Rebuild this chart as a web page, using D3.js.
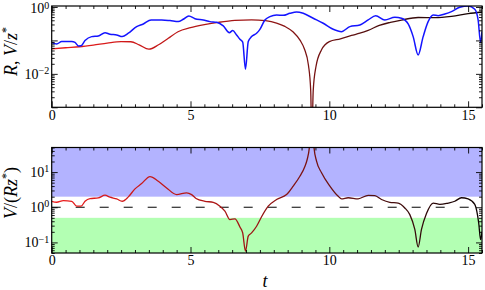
<!DOCTYPE html>
<html><head><meta charset="utf-8">
<script src="https://cdn.jsdelivr.net/npm/d3@7"></script>
<style>body{margin:0;background:#fff} svg{display:block}</style>
</head><body><svg id="c" width="485" height="290"></svg>
<script>
// ---- data ----
const tR = [0,0.5,1,1.5,2,2.5,2.85,3.15,3.5,3.85,4.2,4.55,5,5.5,6,6.6,7.2,7.7,8.1,8.4,8.7,8.95,9.1,9.25,9.33,9.37,9.42,9.52,9.72,10,10.4,10.8,11.1,11.4,11.8,12.2,12.6,13.2,13.8,14.4,15,15.5];
const Rvals = [0.0557,0.0603,0.0646,0.0724,0.0832,0.0923,0.0912,0.0741,0.0546,0.0741,0.116,0.182,0.240,0.295,0.347,0.398,0.412,0.389,0.331,0.263,0.178,0.100,0.0562,0.0178,0.00316,0.0001,0.00316,0.0166,0.0525,0.0923,0.112,0.141,0.164,0.200,0.282,0.347,0.407,0.484,0.481,0.525,0.631,0.708];
const tV = [0,0.18,0.36,0.72,0.84,0.96,1.06,1.2,1.44,1.68,1.92,2.1,2.34,2.54,2.76,3.06,3.3,3.58,3.96,4.26,4.56,4.74,4.94,5.16,5.46,5.7,5.94,6.18,6.4,6.52,6.66,6.78,6.88,6.98,7.08,7.2,7.38,7.5,7.68,7.86,8.1,8.34,8.58,8.82,9.06,9.42,9.78,10.14,10.44,10.74,11.1,11.4,11.67,12.0,12.36,12.6,12.84,13.02,13.2,13.38,13.56,13.74,13.92,14.16,14.4,14.7,15.0,15.24,15.36,15.45,15.5];
const Vvals = [0.0861,0.0787,0.0923,0.0923,0.0871,0.0686,0.0692,0.0989,0.130,0.136,0.171,0.153,0.146,0.130,0.164,0.259,0.311,0.409,0.409,0.391,0.365,0.429,0.538,0.447,0.409,0.365,0.348,0.271,0.171,0.197,0.146,0.108,0.0891,0.0138,0.0923,0.130,0.164,0.214,0.409,0.514,0.577,0.562,0.647,0.710,0.647,0.459,0.326,0.215,0.183,0.259,0.290,0.409,0.551,0.409,0.491,0.459,0.311,0.130,0.0369,0.130,0.365,0.577,0.551,0.618,0.726,0.977,1.07,0.851,0.409,0.0861,0.183];
const tQ = [0,0.18,0.42,0.72,0.9,1.06,1.2,1.38,1.68,1.92,2.1,2.34,2.54,2.76,3.0,3.24,3.54,3.84,4.14,4.5,4.86,5.04,5.2,5.52,5.82,6.06,6.24,6.42,6.6,6.78,6.88,6.98,7.08,7.2,7.38,7.56,7.8,8.1,8.46,8.7,8.94,9.12,9.2,9.28,9.34,9.37,9.4,9.45,9.54,9.72,10.02,10.32,10.44,10.68,11.04,11.4,11.64,11.88,12.18,12.48,12.72,12.9,13.08,13.2,13.32,13.5,13.74,13.98,14.28,14.52,14.76,15,15.24,15.38,15.45,15.5];
const Qvals = [1.479,1.387,1.549,1.479,1.072,1.072,1.479,1.766,1.845,2.198,1.928,1.730,1.479,1.972,3.327,4.710,7.447,5.483,3.548,2.291,2.570,2.291,1.778,1.479,1.380,1.072,0.776,0.447,0.468,0.275,0.186,0.0562,0.151,0.186,0.288,0.537,1.072,1.660,2.291,3.981,7.586,14.45,22.39,48.98,199.5,1000,199.5,48.98,20.42,9.550,3.981,2.042,1.738,1.862,1.738,2.188,2.138,1.660,1.380,1.318,0.955,0.617,0.234,0.0741,0.234,0.661,1.318,1.202,1.318,1.479,1.862,1.738,1.202,0.363,0.120,0.200];
const xMajor = [0,5,10,15];
const xLabels = ["0","5","10","15"];
const topMajor = [1e-3,1e-2,1e-1,1];
const topLabels = [[1e-2,"10","\u22122"],[1,"10","0"]];
const botMajor = [0.1,1,10];
const botLabels = [[0.1,"10","\u22121"],[1,"10","0"],[10,"10","1"]];
const bandHigh = [2,50];
const bandLow = [0.05,0.5];
const refLevel = 1;

// ---- layout ----
const FONT = "'Liberation Serif', 'DejaVu Serif', serif";
const L = 51.7, RT = 482;
const P1 = {y0:6, y1:107.3}, P2 = {y0:147.5, y1:253};
const svg = d3.select("#c");
const x = d3.scaleLinear().domain([0,15.5]).range([L,RT]);
const yTop = d3.scaleLog().domain([1e-3,1.07]).range([P1.y1,P1.y0]);
const yBot = d3.scaleLog().domain([0.05,50]).range([P2.y1,P2.y0]);

const defs = svg.append("defs");
[["c1",P1],["c2",P2]].forEach(([id,p])=>{
  defs.append("clipPath").attr("id",id).append("rect")
    .attr("x",L).attr("y",p.y0).attr("width",RT-L).attr("height",p.y1-p.y0);
});
const grad = defs.append("linearGradient").attr("id","rg")
  .attr("gradientUnits","userSpaceOnUse").attr("x1",L).attr("x2",RT).attr("y1",0).attr("y2",0);
[[0,"#ee1c1c"],[0.45,"#a01414"],[0.72,"#5a1212"],[1,"#0a0000"]].forEach(([o,c])=>
  grad.append("stop").attr("offset",o).attr("stop-color",c));

function minorLog(dom){
  const out=[]; const lo=Math.floor(Math.log10(dom[0])), hi=Math.ceil(Math.log10(dom[1]));
  for(let e=lo;e<=hi;e++) for(let m=2;m<=9;m++){const v=m*Math.pow(10,e); if(v>=dom[0]*0.999&&v<=dom[1]*1.001) out.push(v);}
  return out;
}
const xMinor = d3.range(0,15.51,0.5).filter(v=>v%5!==0);

function panel(p, y, yMajor, labels){
  const g = svg.append("g");
  const ym = yMajor.filter(v=>v>=y.domain()[0]*0.999&&v<=y.domain()[1]);
  g.append("g").attr("transform",`translate(0,${p.y1})`)
    .call(d3.axisBottom(x).tickValues(xMajor).tickSize(-6).tickPadding(2.5).tickFormat((d,i)=>xLabels[i]));
  g.append("g").attr("transform",`translate(0,${p.y1})`)
    .call(d3.axisBottom(x).tickValues(xMinor).tickSize(-3).tickFormat(""));
  g.append("g").attr("transform",`translate(0,${p.y0})`)
    .call(d3.axisTop(x).tickValues(xMajor).tickSize(-6).tickFormat(""));
  g.append("g").attr("transform",`translate(0,${p.y0})`)
    .call(d3.axisTop(x).tickValues(xMinor).tickSize(-3).tickFormat(""));
  const mn = minorLog(y.domain());
  g.append("g").attr("transform",`translate(${L},0)`)
    .call(d3.axisLeft(y).tickValues(ym).tickSize(-6).tickFormat(""));
  g.append("g").attr("transform",`translate(${L},0)`)
    .call(d3.axisLeft(y).tickValues(mn).tickSize(-3).tickFormat(""));
  g.append("g").attr("transform",`translate(${RT},0)`)
    .call(d3.axisRight(y).tickValues(ym).tickSize(-6).tickFormat(""));
  g.append("g").attr("transform",`translate(${RT},0)`)
    .call(d3.axisRight(y).tickValues(mn).tickSize(-3).tickFormat(""));
  g.selectAll(".domain").remove();
  g.selectAll(".tick line").attr("stroke","#000").attr("stroke-width",0.9);
  g.selectAll(".tick text").style("font-family",FONT).style("font-size","14px").attr("fill","#000");
  labels.forEach(([v,base,sup])=>{
    const yy = Math.max(y(v)+4.7, 13);
    const t = g.append("text").attr("x",L-2.5).attr("y",yy).attr("text-anchor","end")
      .style("font-family",FONT).style("font-size","14px").attr("fill","#000");
    t.append("tspan").text(base);
    t.append("tspan").attr("dy",-4.5).style("font-size","10px").text(sup);
  });
  return g;
}

// bottom panel bands
const gb = svg.append("g").attr("clip-path","url(#c2)");
gb.append("rect").attr("x",L).attr("width",RT-L).attr("y",yBot(bandHigh[1])).attr("height",yBot(bandHigh[0])-yBot(bandHigh[1])).attr("fill","#b3b3ff");
gb.append("rect").attr("x",L).attr("width",RT-L).attr("y",yBot(bandLow[1])).attr("height",yBot(bandLow[0])-yBot(bandLow[1])).attr("fill","#b3ffb3");
gb.append("line").attr("x1",L).attr("x2",RT).attr("y1",yBot(refLevel)).attr("y2",yBot(refLevel))
  .attr("stroke","#000").attr("stroke-width",1).attr("stroke-dasharray","9,15");

// lines
const lineTopR = d3.line().x((d,i)=>x(tR[i])).y(d=>yTop(d)).curve(d3.curveMonotoneX);
const lineTopV = d3.line().x((d,i)=>x(tV[i])).y(d=>yTop(d)).curve(d3.curveMonotoneX);
const lineBot = d3.line().x((d,i)=>x(tQ[i])).y(d=>yBot(d)).curve(d3.curveMonotoneX);
const g1 = svg.append("g").attr("clip-path","url(#c1)");
g1.append("path").datum(Rvals).attr("d",lineTopR).attr("fill","none").attr("stroke","url(#rg)").attr("stroke-width",1.3);
g1.append("path").datum(Vvals).attr("d",lineTopV).attr("fill","none").attr("stroke","#1414ff").attr("stroke-width",1.5);
gb.append("path").datum(Qvals).attr("d",lineBot).attr("fill","none").attr("stroke","url(#rg)").attr("stroke-width",1.3);

panel(P1, yTop, topMajor, topLabels);
panel(P2, yBot, botMajor, botLabels);

[P1,P2].forEach(p=>svg.append("rect").attr("x",L).attr("y",p.y0).attr("width",RT-L).attr("height",p.y1-p.y0)
  .attr("fill","none").attr("stroke","#000").attr("stroke-width",1.2));

// axis titles
function title(tr){ return svg.append("text").attr("transform",tr).attr("text-anchor","middle")
  .style("font-family",FONT).style("font-size","18px").attr("fill","#000"); }
const t1 = title("translate(17,51.5) rotate(-90)");
t1.append("tspan").style("font-style","italic").text("R");
t1.append("tspan").text(", ");
t1.append("tspan").style("font-style","italic").text("V");
t1.append("tspan").text("/");
t1.append("tspan").style("font-style","italic").text("z");
t1.append("tspan").attr("dy",-7).style("font-size","12px").text("*");
const t2 = title("translate(17,193) rotate(-90)");
t2.append("tspan").style("font-style","italic").text("V");
t2.append("tspan").text("/(");
t2.append("tspan").style("font-style","italic").text("Rz");
t2.append("tspan").attr("dy",-7).style("font-size","12px").text("*");
t2.append("tspan").attr("dy",7).text(")");
const t3 = title("translate(265,287)");
t3.append("tspan").style("font-style","italic").text("t");
</script></body></html>
